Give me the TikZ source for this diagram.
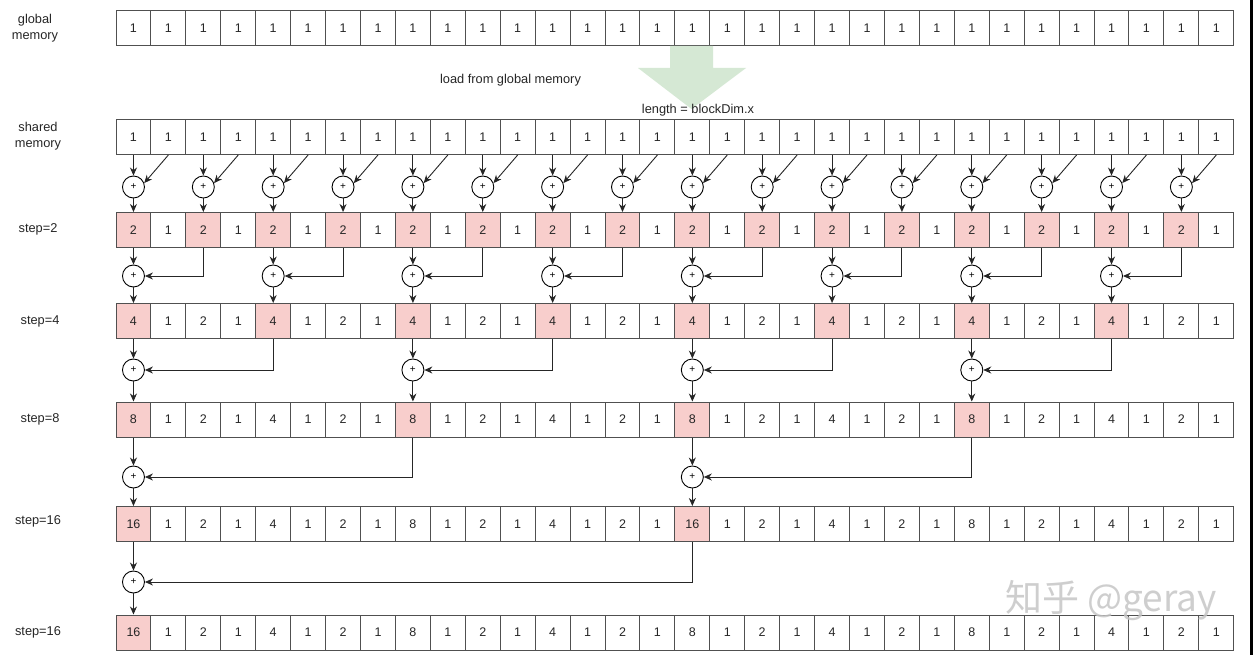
\documentclass[tikz,border=0pt]{standalone}
\usepackage{fontspec}
\setmainfont{Liberation Sans}
\newfontfamily\cjkfont{Noto Sans CJK SC}
\usetikzlibrary{arrows.meta}
\definecolor{cellborder}{HTML}{505050}
\definecolor{pinkfill}{HTML}{F8CECC}
\definecolor{greenfill}{HTML}{D5E8D4}
\newcommand\mkrow[4]{% #1 name, #2 y, #3 values, #4 pink modulus (0 = none)
  \foreach \v [count=\n from 0] in {#3}{%
    \pgfmathsetmacro\cx{116+(\n+0.5)*34.93}%
    \ifnum#4>0 \pgfmathtruncatemacro\pk{mod(\n,#4)==0}\else\def\pk{0}\fi
    \ifnum\pk=1
      \node[cell,hot] (#1-\n) at (\cx,#2) {\v};
    \else
      \node[cell] (#1-\n) at (\cx,#2) {\v};
    \fi
  }%
}
\begin{document}
\begin{tikzpicture}[x=1pt,y=-1pt,
  cell/.style={draw=cellborder, line width=1pt, fill=white, minimum width=34.93pt, minimum height=35pt, inner sep=0pt, font=\fontsize{12.5}{14}\selectfont, text=black!85},
  hot/.style={fill=pinkfill},
  plus/.style={circle, draw=black, line width=0.9pt, minimum size=22pt, inner sep=0pt, fill=white, font=\fontsize{10}{10}\selectfont},
  conn/.style={draw=black!85, line width=0.9pt, -{Stealth[length=8pt,width=7pt]}},
  lbl/.style={font=\fontsize{12.8}{16}\selectfont, align=center, text=black!85}]
\useasboundingbox (0,0) rectangle (1253,655);
\fill[white] (0,0) rectangle (1253,655);
\fill[black] (1250,0) rectangle (1253,655);

% left labels
\node[lbl] (lg) at (35,28) {global\\memory};
\node[lbl] (ls) at (38,136) {shared\\memory};
\node[lbl] (l2) at (38,229) {step=2};
\node[lbl] (l4) at (40,321) {step=4};
\node[lbl] (l8) at (40,419) {step=8};
\node[lbl] (l16) at (38,521) {step=16};
\node[lbl] (l16b) at (38,632) {step=16};

% rows
\mkrow{gm}{28.5}{1,1,1,1,1,1,1,1,1,1,1,1,1,1,1,1,1,1,1,1,1,1,1,1,1,1,1,1,1,1,1,1}{0}
\mkrow{sh}{137}{1,1,1,1,1,1,1,1,1,1,1,1,1,1,1,1,1,1,1,1,1,1,1,1,1,1,1,1,1,1,1,1}{0}
\mkrow{sa}{230}{2,1,2,1,2,1,2,1,2,1,2,1,2,1,2,1,2,1,2,1,2,1,2,1,2,1,2,1,2,1,2,1}{2}
\mkrow{sb}{321}{4,1,2,1,4,1,2,1,4,1,2,1,4,1,2,1,4,1,2,1,4,1,2,1,4,1,2,1,4,1,2,1}{4}
\mkrow{sc}{419.5}{8,1,2,1,4,1,2,1,8,1,2,1,4,1,2,1,8,1,2,1,4,1,2,1,8,1,2,1,4,1,2,1}{8}
\mkrow{sd}{524}{16,1,2,1,4,1,2,1,8,1,2,1,4,1,2,1,16,1,2,1,4,1,2,1,8,1,2,1,4,1,2,1}{16}
\mkrow{se}{632.5}{16,1,2,1,4,1,2,1,8,1,2,1,4,1,2,1,8,1,2,1,4,1,2,1,8,1,2,1,4,1,2,1}{64}

% level coordinates
\coordinate (ya) at (0,187);
\coordinate (yb) at (0,276);
\coordinate (yc) at (0,370);
\coordinate (yd) at (0,477);
\coordinate (ye) at (0,582);

% level 1
\foreach \k [evaluate=\k as \i using int(2*\k), evaluate=\k as \j using int(2*\k+1)] in {0,...,15}{
  \node[plus] (pa-\k) at (sh-\i |- ya) {+};
  \draw[conn] (sh-\i.south) -- (pa-\k.north);
  \draw[conn] (sh-\j.south) -- (pa-\k.20);
  \draw[conn] (pa-\k.south) -- (sa-\i.north);
}
% level 2
\foreach \k [evaluate=\k as \i using int(4*\k), evaluate=\k as \j using int(4*\k+2)] in {0,...,7}{
  \node[plus] (pb-\k) at (sa-\i |- yb) {+};
  \draw[conn] (sa-\i.south) -- (pb-\k.north);
  \draw[conn] (sa-\j.south) |- (pb-\k.east);
  \draw[conn] (pb-\k.south) -- (sb-\i.north);
}
% level 3
\foreach \k [evaluate=\k as \i using int(8*\k), evaluate=\k as \j using int(8*\k+4)] in {0,...,3}{
  \node[plus] (pc-\k) at (sb-\i |- yc) {+};
  \draw[conn] (sb-\i.south) -- (pc-\k.north);
  \draw[conn] (sb-\j.south) |- (pc-\k.east);
  \draw[conn] (pc-\k.south) -- (sc-\i.north);
}
% level 4
\foreach \k [evaluate=\k as \i using int(16*\k), evaluate=\k as \j using int(16*\k+8)] in {0,1}{
  \node[plus] (pd-\k) at (sc-\i |- yd) {+};
  \draw[conn] (sc-\i.south) -- (pd-\k.north);
  \draw[conn] (sc-\j.south) |- (pd-\k.east);
  \draw[conn] (pd-\k.south) -- (sd-\i.north);
}
% level 5
\node[plus] (pe-0) at (sd-0 |- ye) {+};
\draw[conn] (sd-0.south) -- (pe-0.north);
\draw[conn] (sd-16.south) |- (pe-0.east);
\draw[conn] (pe-0.south) -- (se-0.north);

% green block arrow
\fill[greenfill] (670,46) -- (713,46) -- (713,68) -- (746,68) -- (691.5,109) -- (638,68) -- (670,68) -- cycle;

\node[lbl] (tload) at (510.5,80) {load from global memory};
\node[lbl] (tlen) at (698,110) {length = blockDim.x};

% watermark
\node[font=\cjkfont\fontsize{37}{40}\selectfont, text=gray!45, opacity=0.85] (wm) at (1111,601) {知乎 @geray};
\end{tikzpicture}
\end{document}
